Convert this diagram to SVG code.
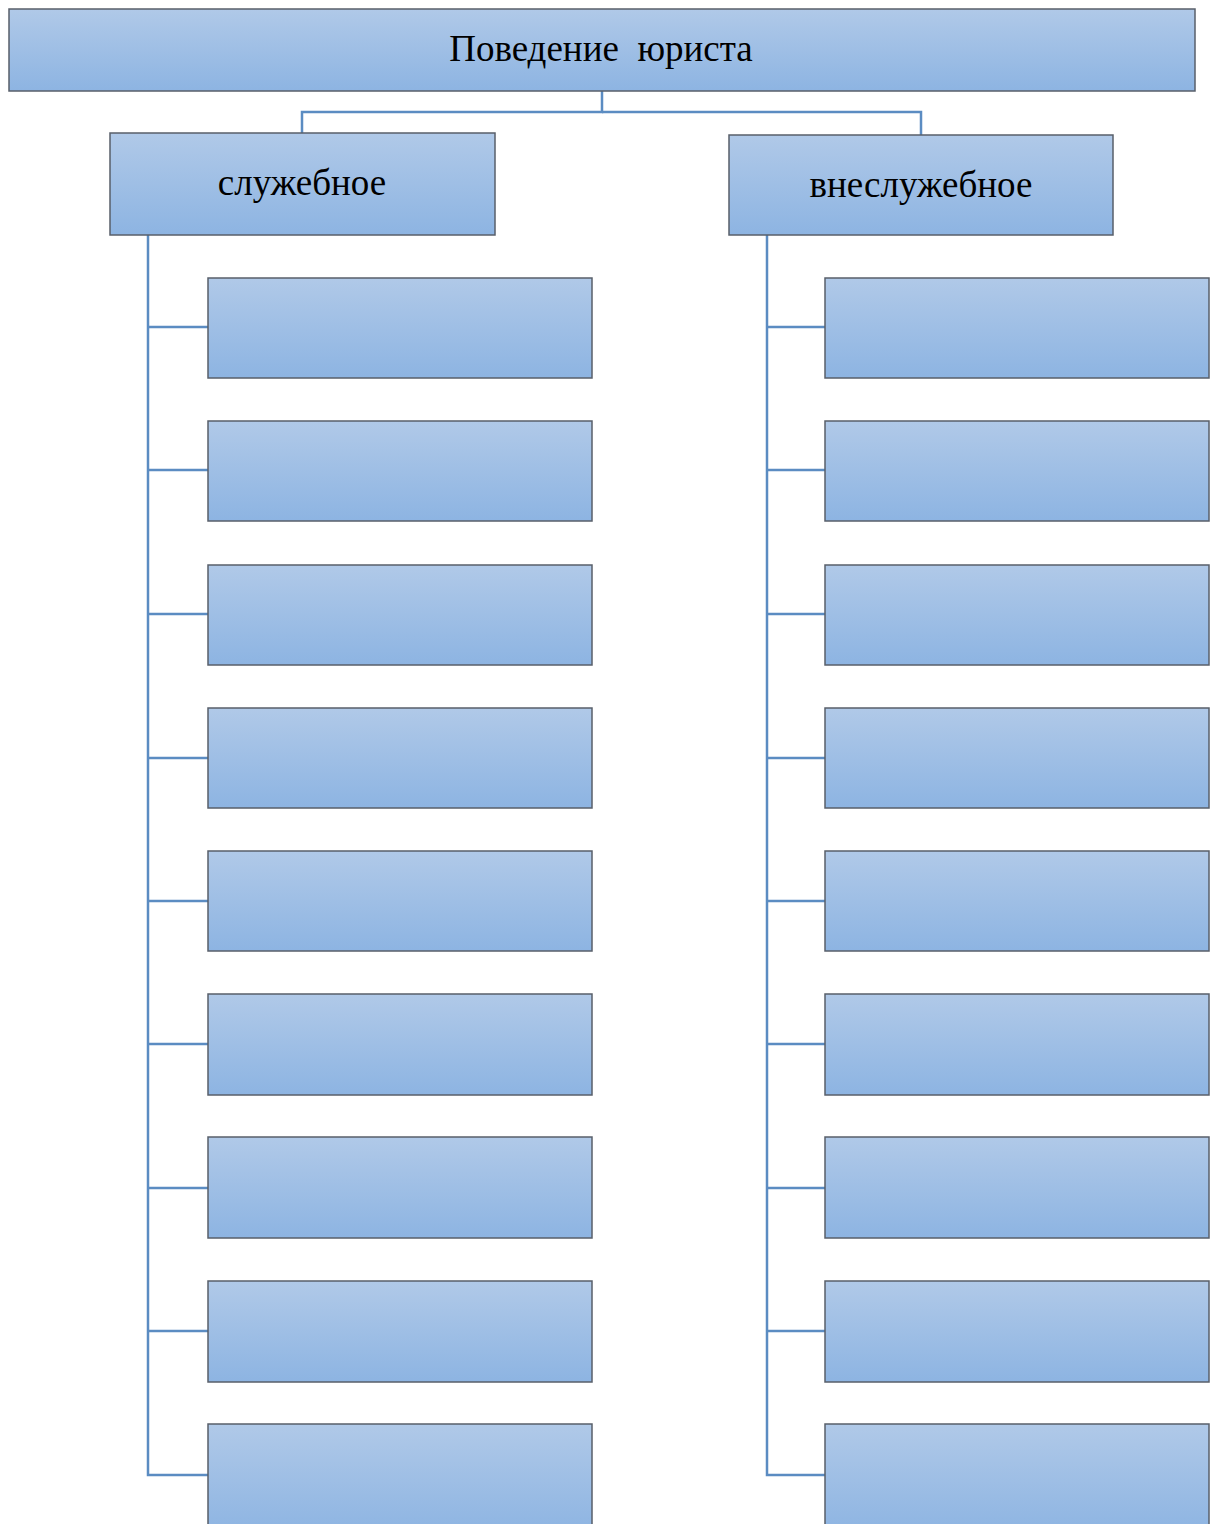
<svg xmlns="http://www.w3.org/2000/svg" width="1216" height="1524" viewBox="0 0 1216 1524">
<defs>
<linearGradient id="g" x1="0" y1="0" x2="0" y2="1">
<stop offset="0" stop-color="#b0c9e8"/>
<stop offset="1" stop-color="#8db4e2"/>
</linearGradient>
</defs>
<style>
.box{fill:url(#g);stroke:#585f6a;stroke-width:1.5}
.lbl{font-family:"Liberation Serif",serif;font-size:37px;fill:#000;text-anchor:middle}
.c{fill:none;stroke:#5b8cc2;stroke-width:2.5}
</style>
<g id="connectors">
<polyline class="c" points="602,91 602,112 302,112 302,133"/>
<polyline class="c" points="602,112 921,112 921,135"/>
<polyline class="c" points="148,235 148,1475 208,1475"/>
<line class="c" x1="148" y1="327" x2="208" y2="327"/>
<line class="c" x1="148" y1="470" x2="208" y2="470"/>
<line class="c" x1="148" y1="614" x2="208" y2="614"/>
<line class="c" x1="148" y1="758" x2="208" y2="758"/>
<line class="c" x1="148" y1="901" x2="208" y2="901"/>
<line class="c" x1="148" y1="1044" x2="208" y2="1044"/>
<line class="c" x1="148" y1="1188" x2="208" y2="1188"/>
<line class="c" x1="148" y1="1331" x2="208" y2="1331"/>
<polyline class="c" points="767,235 767,1475 825,1475"/>
<line class="c" x1="767" y1="327" x2="825" y2="327"/>
<line class="c" x1="767" y1="470" x2="825" y2="470"/>
<line class="c" x1="767" y1="614" x2="825" y2="614"/>
<line class="c" x1="767" y1="758" x2="825" y2="758"/>
<line class="c" x1="767" y1="901" x2="825" y2="901"/>
<line class="c" x1="767" y1="1044" x2="825" y2="1044"/>
<line class="c" x1="767" y1="1188" x2="825" y2="1188"/>
<line class="c" x1="767" y1="1331" x2="825" y2="1331"/>
</g>
<g id="root"><rect class="box" x="9" y="9" width="1186" height="82"/><text class="lbl" x="601" y="61" xml:space="preserve">Поведение  юриста</text></g>
<g id="official"><rect class="box" x="110" y="133" width="385" height="102"/><text class="lbl" x="302" y="195">служебное</text></g>
<g id="unofficial"><rect class="box" x="729" y="135" width="384" height="100"/><text class="lbl" x="921" y="197">внеслужебное</text></g>
<g id="l1"><rect class="box" x="208" y="278" width="384" height="100"/></g>
<g id="l2"><rect class="box" x="208" y="421" width="384" height="100"/></g>
<g id="l3"><rect class="box" x="208" y="565" width="384" height="100"/></g>
<g id="l4"><rect class="box" x="208" y="708" width="384" height="100"/></g>
<g id="l5"><rect class="box" x="208" y="851" width="384" height="100"/></g>
<g id="l6"><rect class="box" x="208" y="994" width="384" height="101"/></g>
<g id="l7"><rect class="box" x="208" y="1137" width="384" height="101"/></g>
<g id="l8"><rect class="box" x="208" y="1281" width="384" height="101"/></g>
<g id="l9"><rect class="box" x="208" y="1424" width="384" height="110"/></g>
<g id="r1"><rect class="box" x="825" y="278" width="384" height="100"/></g>
<g id="r2"><rect class="box" x="825" y="421" width="384" height="100"/></g>
<g id="r3"><rect class="box" x="825" y="565" width="384" height="100"/></g>
<g id="r4"><rect class="box" x="825" y="708" width="384" height="100"/></g>
<g id="r5"><rect class="box" x="825" y="851" width="384" height="100"/></g>
<g id="r6"><rect class="box" x="825" y="994" width="384" height="101"/></g>
<g id="r7"><rect class="box" x="825" y="1137" width="384" height="101"/></g>
<g id="r8"><rect class="box" x="825" y="1281" width="384" height="101"/></g>
<g id="r9"><rect class="box" x="825" y="1424" width="384" height="110"/></g>
</svg>
